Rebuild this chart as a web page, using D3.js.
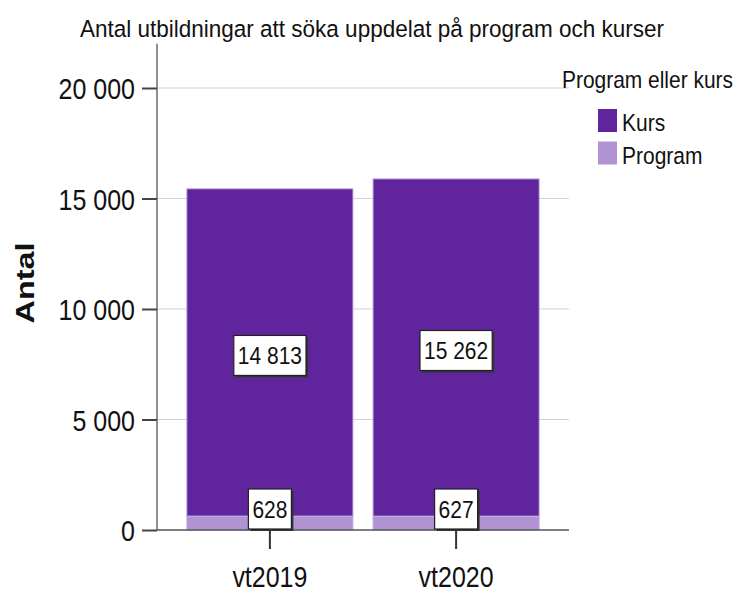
<!DOCTYPE html>
<html>
<head>
<meta charset="utf-8">
<script src="https://cdn.jsdelivr.net/npm/d3@7"></script>
<style>
  body { margin: 0; background: #fff; }
  text { font-family: "Liberation Sans", Arial, sans-serif; fill: #111; }
</style>
</head>
<body>
<div id="chart"></div>
<script>
// data
const terms = ["vt2019", "vt2020"];
const kurs = [14813, 15262];
const program = [628, 627];
const seriesNames = ["Kurs", "Program"];
const yTicks = [0, 5000, 10000, 15000, 20000];

const colors = { Kurs: "#60259c", Program: "#b093d0" };
const SY = 1.18; // text in the original is a bit taller than wide

const W = 745, H = 592;
const svg = d3.select("#chart").append("svg")
  .attr("width", W).attr("height", H);

// scales
const x = d3.scaleBand().domain(terms).range([157, 569])
  .paddingInner(0.1075).paddingOuter(0.16);
const y = d3.scaleLinear().domain([0, 22000]).range([530, 43.8]);

const fmt = v => d3.format(",")(v).replace(/,/g, " ");

// helper: text placed with translate + vertical stretch
function label(parent, px, py, str, size) {
  return parent.append("text")
    .attr("transform", `translate(${px},${py}) scale(1,${SY})`)
    .attr("font-size", size)
    .text(str);
}

// gridlines
svg.append("g").selectAll("line")
  .data(yTicks.filter(d => d > 0))
  .enter().append("line")
  .attr("x1", 157).attr("x2", 569)
  .attr("y1", d => y(d)).attr("y2", d => y(d))
  .attr("stroke", "#d2d2d2").attr("stroke-width", 1.2);

// stacked bars
const rows = terms.map((t, i) => ({ term: t, Program: program[i], Kurs: kurs[i] }));
const stack = d3.stack().keys(["Program", "Kurs"])(rows);

const layers = svg.append("g").selectAll("g")
  .data(stack).enter().append("g")
  .attr("fill", d => colors[d.key]);

layers.selectAll("rect")
  .data(d => d)
  .enter().append("rect")
  .attr("x", d => x(d.data.term))
  .attr("width", x.bandwidth())
  .attr("y", d => y(d[1]))
  .attr("height", d => y(d[0]) - y(d[1]))
  .attr("stroke", "#c9b3e6").attr("stroke-width", 1);

// axes
const yAxis = svg.append("g")
  .attr("transform", "translate(157,0)")
  .call(d3.axisLeft(y).tickValues(yTicks).tickSize(15).tickPadding(7).tickFormat(fmt));
yAxis.select(".domain").attr("d", `M0,${y(22000)}V${y(0)}`).attr("stroke", "#555").attr("stroke-width", 1.3);
yAxis.selectAll(".tick line").attr("stroke", "#444").attr("stroke-width", 2);
yAxis.selectAll(".tick text").attr("font-size", 25).attr("fill", "#111")
  .attr("x", null).attr("dy", "0.36em")
  .attr("transform", `translate(-22,0) scale(1,${SY})`);

const xAxis = svg.append("g")
  .attr("transform", "translate(0,530)")
  .call(d3.axisBottom(x).tickSize(19).tickPadding(16));
xAxis.select(".domain").attr("d", "M157,0H569").attr("stroke", "#555").attr("stroke-width", 1.3);
xAxis.selectAll(".tick line").attr("stroke", "#333").attr("stroke-width", 2);
xAxis.selectAll(".tick text").attr("font-size", 25).attr("fill", "#111")
  .attr("y", null).attr("dy", null)
  .attr("transform", `translate(0,57) scale(1,${SY})`);

// value labels
const labelG = svg.append("g");
stack.forEach(layer => {
  layer.forEach(d => {
    const cx = x(d.data.term) + x.bandwidth() / 2;
    const value = d[1] - d[0];
    const h = 40;
    let cy = (y(d[0]) + y(d[1])) / 2 + 3;
    if (cy + h / 2 > y(0) - 1) cy = y(0) - 1 - h / 2;
    const g = labelG.append("g");
    const shadow = g.append("rect");
    const box = g.append("rect");
    const t = label(g, cx, cy + 8.5, fmt(value), 21)
      .attr("text-anchor", "middle").attr("fill", "#222");
    const w = t.node().getComputedTextLength() + 8;
    shadow.attr("x", cx - w / 2 + 2).attr("y", cy - h / 2 + 2)
      .attr("width", w).attr("height", h).attr("fill", "#333");
    box.attr("x", cx - w / 2).attr("y", cy - h / 2)
      .attr("width", w).attr("height", h)
      .attr("fill", "#fff").attr("stroke", "#222").attr("stroke-width", 1.2);
  });
});

// title
label(svg, 372, 37, "Antal utbildningar att söka uppdelat på program och kurser", 21)
  .attr("text-anchor", "middle")
  .attr("textLength", 584).attr("lengthAdjust", "spacingAndGlyphs");

// y title
svg.append("text")
  .attr("transform", "translate(34,283) rotate(-90)")
  .attr("text-anchor", "middle")
  .attr("font-size", 26).attr("font-weight", "bold")
  .attr("textLength", 81).attr("lengthAdjust", "spacingAndGlyphs")
  .text("Antal");

// legend
label(svg, 562, 88, "Program eller kurs", 20)
  .attr("textLength", 171).attr("lengthAdjust", "spacingAndGlyphs");

const legend = svg.append("g").selectAll("g")
  .data(seriesNames).enter().append("g")
  .attr("transform", (d, i) => `translate(598,${109 + i * 32.5})`);
legend.append("rect")
  .attr("width", 19).attr("height", 23)
  .attr("fill", d => colors[d]);
legend.append("text")
  .attr("transform", `translate(24,22) scale(1,${SY})`)
  .attr("font-size", 21)
  .text(d => d);
</script>
</body>
</html>
